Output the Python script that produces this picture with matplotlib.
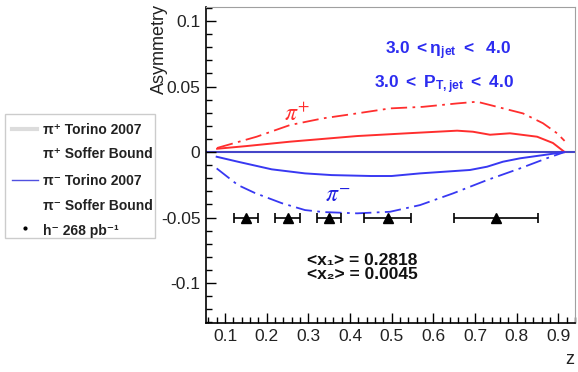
import matplotlib
matplotlib.use("Agg")
import matplotlib.pyplot as plt
from matplotlib.lines import Line2D
from matplotlib.patches import Rectangle
from matplotlib.ticker import MultipleLocator

plt.rcParams['font.family'] = ['Liberation Sans', 'DejaVu Sans']
plt.rcParams['mathtext.fontset'] = 'custom'
plt.rcParams['mathtext.rm'] = 'Liberation Sans'
plt.rcParams['mathtext.bf'] = 'Liberation Sans:bold'
plt.rcParams['mathtext.it'] = 'Liberation Sans:italic'

# curves (z, asymmetry)
z_pip_torino = [0.081, 0.15, 0.256, 0.417, 0.537, 0.657, 0.695, 0.736, 0.784, 0.849, 0.887, 0.915]
a_pip_torino = [0.0025, 0.0045, 0.0079, 0.0122, 0.0143, 0.0163, 0.0155, 0.0132, 0.0143, 0.0117, 0.0069, 0.0]

z_pip_soffer = [0.081, 0.176, 0.256, 0.335, 0.417, 0.496, 0.575, 0.657, 0.705, 0.753, 0.815, 0.863, 0.897, 0.915]
a_pip_soffer = [0.0031, 0.0117, 0.0206, 0.0257, 0.0295, 0.0333, 0.0345, 0.0371, 0.0384, 0.0345, 0.0295, 0.022, 0.0143, 0.0085]

z_pim_torino = [0.080, 0.131, 0.212, 0.292, 0.356, 0.45, 0.50, 0.568, 0.688, 0.729, 0.767, 0.808, 0.86, 0.915]
a_pim_torino = [-0.0036, -0.0074, -0.0132, -0.0163, -0.0176, -0.0183, -0.0183, -0.0163, -0.0137, -0.0112, -0.0074, -0.0048, -0.0025, 0.0]

z_pim_soffer = [0.080, 0.131, 0.172, 0.236, 0.292, 0.335, 0.417, 0.496, 0.568, 0.647, 0.729, 0.808, 0.872, 0.915]
a_pim_soffer = [-0.0125, -0.0252, -0.0313, -0.039, -0.0443, -0.0458, -0.0468, -0.0456, -0.0405, -0.0316, -0.0214, -0.0125, -0.0048, 0.0]

# projected h- points
z_pts = [0.15, 0.25, 0.35, 0.49, 0.75]
a_pts = [-0.05, -0.05, -0.05, -0.05, -0.05]
zerr_pts = [0.028, 0.029, 0.029, 0.056, 0.1]

legend_labels = ['π⁺ Torino 2007', 'π⁺ Soffer Bound', 'π⁻ Torino 2007',
                 'π⁻ Soffer Bound', 'h⁻ 268 pb⁻¹']

W, H = 578, 372
fig = plt.figure(figsize=(W / 100, H / 100), dpi=100)
ax = fig.add_axes([206 / W, 1 - 323 / H, (575 - 206) / W, (323 - 7) / H])

red = '#ff2e2e'
blue = '#3838f2'
dashdot = (0, (9, 3, 1.5, 3))

ax.axhline(0, color='#4545c8', lw=1.5, zorder=1)
ax.plot(z_pip_torino, a_pip_torino, color=red, lw=1.4)
ax.plot(z_pip_soffer, a_pip_soffer, color=red, lw=1.3, ls=dashdot)
ax.plot(z_pim_torino, a_pim_torino, color=blue, lw=1.4)
ax.plot(z_pim_soffer, a_pim_soffer, color=blue, lw=1.3, ls=dashdot)
ax.errorbar(z_pts, a_pts, xerr=zerr_pts, fmt='^', color='black', ms=6.5,
            elinewidth=1.2, capsize=3.5, capthick=1.2, zorder=5)

ax.set_xlim(0.0544, 0.940)
ax.set_ylim(-0.1305, 0.1107)
ax.xaxis.set_minor_locator(MultipleLocator(0.02))
ax.yaxis.set_minor_locator(MultipleLocator(0.01))
ax.set_xticks([0.1, 0.2, 0.3, 0.4, 0.5, 0.6, 0.7, 0.8, 0.9])
ax.set_xticklabels(['0.1', '0.2', '0.3', '0.4', '0.5', '0.6', '0.7', '0.8', '0.9'])
ax.set_yticks([-0.1, -0.05, 0, 0.05, 0.1])
ax.set_yticklabels(['-0.1', '-0.05', '0', '0.05', '0.1'])
ax.tick_params(which='both', direction='in', top=False, right=False,
               labelsize=12.5, colors='black', labelcolor='#222222')
ax.tick_params(which='major', length=7, width=1, pad=4)
ax.tick_params(which='minor', length=4, width=1)
for s in ['top', 'right']:
    ax.spines[s].set_color('#a0a0a0')
for s in ['left', 'bottom']:
    ax.spines[s].set_color('black')
    ax.spines[s].set_linewidth(1.2)

# annotations
tblue = '#2c2cf0'
ax.text(0.635, 0.0771, r'$\mathbf{3.0\ {<}\eta_{jet}\ {<}\ \ 4.0}$', color=tblue,
        fontsize=12.5, ha='center', va='center')
ax.text(0.626, 0.0511, r'$\mathbf{3.0\ {<}\ P_{T,jet}\ {<}\ 4.0}$', color=tblue,
        fontsize=12.5, ha='center', va='center')
ax.text(0.273, 0.0282, r'$\pi^{+}$', color=red, fontsize=17, ha='center',
        va='center', math_fontfamily='stix')
ax.text(0.371, -0.0336, r'$\pi^{-}$', color='#2020e0', fontsize=17, ha='center',
        va='center', math_fontfamily='stix')
ax.text(0.429, -0.0825, '<x₁> = 0.2818', color='#111111', fontweight='bold',
        fontsize=12.5, ha='center', va='center')
ax.text(0.429, -0.0935, '<x₂> = 0.0045', color='#111111', fontweight='bold',
        fontsize=12.5, ha='center', va='center')

fig.text(159 / W, 1 - 4 / H, 'Asymmetry', rotation=90, ha='center', va='top',
         fontsize=13, color='#222222')
fig.text(570 / W, 1 - 360 / H, 'z', ha='center', va='center', fontsize=13,
         color='#222222')

# legend box drawn in figure pixels
fig.patches.append(Rectangle((5 / W, 1 - 238 / H), 150 / W, 124 / H,
                             transform=fig.transFigure, facecolor='white',
                             edgecolor='#cccccc', lw=1))
rows = [130, 154, 181, 206, 231]
fig.lines.append(Line2D([12 / W, 37 / W], [1 - 129 / H] * 2, color='#dcdcdc', lw=3,
                        transform=fig.transFigure))
fig.lines.append(Line2D([12 / W, 38 / W], [1 - 180 / H] * 2, color='#5050e0', lw=1,
                        transform=fig.transFigure))
fig.lines.append(Line2D([25 / W], [1 - 228 / H], color='black', marker='o', ms=2,
                        transform=fig.transFigure))
for y, lab in zip(rows, legend_labels):
    fig.text(43 / W, 1 - y / H, lab, ha='left', va='center', fontsize=10,
             fontweight='bold', color='#222222')

fig.savefig('out.png', dpi=100)
